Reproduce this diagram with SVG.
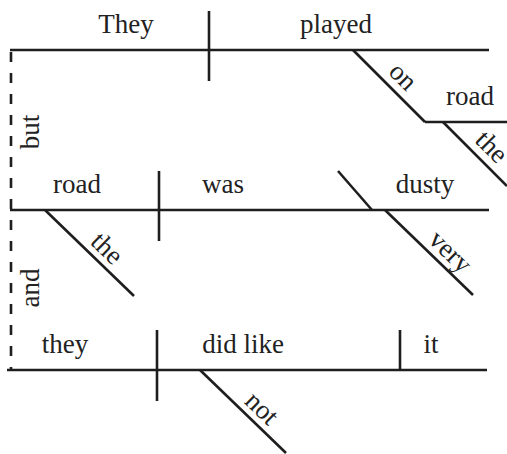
<svg xmlns="http://www.w3.org/2000/svg" width="507" height="454" viewBox="0 0 507 454">
<style>
.w{font-family:'Liberation Serif',serif;font-size:27px;fill:#222;text-anchor:middle}
.l{stroke:#1e1e1e;stroke-width:2.6;fill:none}
.d{stroke:#1e1e1e;stroke-width:2.6;fill:none;stroke-dasharray:10 11}
</style>
<rect width="507" height="454" fill="#fff"/>
<g id="connectors">
<line class="d" x1="11" y1="52" x2="11" y2="370"/>
<line class="l" x1="10" y1="50" x2="489" y2="50"/>
<line class="l" x1="209" y1="11" x2="209" y2="81"/>
<line class="l" x1="353" y1="50" x2="425" y2="122"/>
<line class="l" x1="425" y1="122" x2="507" y2="122"/>
<line class="l" x1="443" y1="122" x2="507" y2="186"/>
<line class="l" x1="10" y1="210" x2="489" y2="210"/>
<line class="l" x1="159" y1="171" x2="159" y2="241"/>
<line class="l" x1="338" y1="171" x2="372" y2="210"/>
<line class="l" x1="45" y1="210" x2="134" y2="296"/>
<line class="l" x1="385" y1="210" x2="473" y2="295"/>
<line class="l" x1="7" y1="370" x2="487" y2="370"/>
<line class="l" x1="157" y1="330" x2="157" y2="401"/>
<line class="l" x1="400" y1="330" x2="400" y2="370"/>
<line class="l" x1="200" y1="370" x2="286" y2="453"/>
</g>
<g id="n-they1"><text class="w" x="126" y="33">They</text></g>
<g id="n-played"><text class="w" x="336" y="33">played</text></g>
<g id="n-on"><text class="w" transform="translate(397,82.5) rotate(45)">on</text></g>
<g id="n-road1"><text class="w" x="470" y="105">road</text></g>
<g id="n-the1"><text class="w" transform="translate(485.5,153) rotate(45)">the</text></g>
<g id="n-but"><text class="w" transform="translate(39,132) rotate(-90)">but</text></g>
<g id="n-road2"><text class="w" x="77" y="193">road</text></g>
<g id="n-was"><text class="w" x="223" y="193">was</text></g>
<g id="n-dusty"><text class="w" x="425" y="193">dusty</text></g>
<g id="n-the2"><text class="w" transform="translate(101,254.5) rotate(44)">the</text></g>
<g id="n-very"><text class="w" transform="translate(444.4,258) rotate(44)">very</text></g>
<g id="n-and"><text class="w" transform="translate(39,288) rotate(-90)">and</text></g>
<g id="n-they2"><text class="w" x="65" y="353">they</text></g>
<g id="n-didlike"><text class="w" x="243" y="353">did like</text></g>
<g id="n-it"><text class="w" x="431" y="353">it</text></g>
<g id="n-not"><text class="w" transform="translate(256,414.5) rotate(44)">not</text></g>
</svg>
